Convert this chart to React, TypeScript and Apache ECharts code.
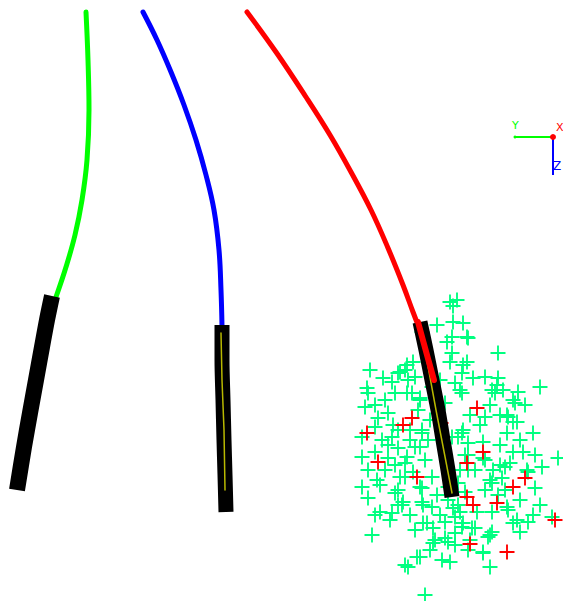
import React, { useEffect, useRef } from "react";
import * as echarts from "echarts";

const greenPath: number[][] = [[86,12],[88,60],[89,110],[87,160],[82,200],[75,235],[66,267],[56,297]];
const bluePath: number[][] = [[143,12],[157,40],[171,72],[184,105],[196,140],[206,175],[214,210],[219,250],[221,290],[222,326]];
const redPath: number[][] = [[247,12],[276,52],[306,97],[330,135],[351,172],[371,210],[388,248],[403,285],[413,312],[418,325]];

const blackGreen: number[][] = [[52,296],[47,320],[42,347],[36,380],[30,413],[24,447],[17,490]];
const blackBlue: number[][] = [[222,325],[222,360],[223,400],[224,440],[225,475],[226,512]];
const blackRed: number[][] = [[420,322],[426,350],[432,380],[438,410],[443,440],[448,470],[452,497]];

const yellowBlue: number[][] = [[221,333],[222,380],[224,430],[225,490]];
const yellowRed: number[][] = [[421,328],[436,410],[452,493]];
const redOverlay: number[][] = [[418,322],[427,355],[434,380]];

const greenCrosses: number[][] = [
  [450,302],[453,306],[437,325],[453,322],[463,323],[422,332],[447,342],[452,337],[467,337],[452,353],[467,362],[498,353],
  [370,370],[405,370],[398,373],[413,362],[407,365],[415,377],[400,372],[367,388],[392,382],[408,380],[440,380],[450,362],
  [455,383],[432,387],[457,300],[468,338],[463,365],[462,373],[473,378],[485,377],[498,378],[540,387],[518,392],[492,390],
  [503,390],[460,390],[497,385],[368,393],[395,393],[412,393],[407,393],[375,405],[365,407],[388,413],[420,398],[420,400],
  [445,403],[422,430],[398,430],[375,427],[382,440],[362,437],[398,448],[415,447],[428,440],[452,437],[410,430],[422,433],
  [420,447],[388,458],[405,463],[425,460],[407,457],[362,457],[368,470],[385,470],[405,477],[432,477],[413,472],[400,477],
  [380,485],[398,490],[422,488],[420,487],[362,487],[448,487],[462,393],[495,393],[515,403],[485,417],[508,417],[513,422],
  [500,415],[513,400],[525,405],[507,415],[517,422],[533,433],[507,433],[462,433],[463,430],[458,437],[483,442],[468,443],
  [465,455],[468,455],[483,458],[513,452],[523,452],[558,458],[485,460],[542,467],[505,467],[500,465],[510,463],[527,470],
  [493,470],[468,470],[528,472],[490,480],[502,478],[492,483],[535,488],[458,483],[485,490],[368,498],[395,493],[422,502],
  [403,502],[423,505],[380,512],[392,513],[402,505],[375,515],[432,507],[448,500],[453,508],[423,523],[427,523],[433,528],
  [445,522],[455,517],[372,535],[435,540],[445,538],[448,542],[433,543],[430,550],[417,557],[420,557],[442,560],[450,562],
  [405,565],[408,567],[425,595],[455,533],[465,492],[498,495],[458,505],[477,512],[492,512],[508,510],[507,507],[533,515],
  [552,517],[513,523],[517,520],[528,522],[520,532],[492,532],[475,528],[462,527],[463,523],[472,528],[488,537],[490,535],
  [483,552],[483,553],[490,567],[468,550],[385,400],[378,418],[393,425],[430,420],[388,445],[375,452],[395,465],
  [383,378],[418,410],[410,440],[392,437],[377,480],[398,505],[410,515],[437,495],[460,470],[475,470],[480,425],[470,415],
  [490,405],[520,440],[535,455],[500,445],[505,490],[520,500],[540,505],[470,540],[455,545],[440,515],[460,512],[415,530],
  [390,520]
];

const redCrosses: number[][] = [
  [367,433],[378,462],[403,425],[412,418],[417,477],[477,408],[483,452],[467,463],[525,478],[513,487],
  [467,497],[473,505],[497,503],[555,520],[470,544],[507,552],[441,423]
];

const crossPath = "path://M7,0L9,0L9,7L16,7L16,9L9,9L9,16L7,16L7,9L0,9L0,7L7,7Z";

function lineSeries(data: number[][], color: string, width: number, smooth: number | boolean = 0.4, cap = "round") {
  return {
    type: "line",
    data,
    smooth,
    showSymbol: false,
    symbol: "none",
    silent: true,
    lineStyle: { color, width, cap, join: "round" },
  };
}

export default function App() {
  const ref = useRef<HTMLDivElement>(null);
  useEffect(() => {
    document.body.style.margin = "0";
    if (!ref.current) return;
    const chart = echarts.init(ref.current, null, { renderer: "svg" });
    chart.setOption({
      animation: false,
      backgroundColor: "#ffffff",
      grid: { left: 0, right: 0, top: 0, bottom: 0 },
      xAxis: { type: "value", min: 0, max: 563, show: false },
      yAxis: { type: "value", min: 0, max: 601, inverse: true, show: false },
      series: [
        lineSeries(greenPath, "#00ff00", 5),
        lineSeries(bluePath, "#0000ff", 5),
        lineSeries(redPath, "#ff0000", 5),
        lineSeries(blackGreen, "#000000", 16, 0.3, "butt"),
        lineSeries(blackBlue, "#000000", 15, 0.3, "butt"),
        lineSeries(blackRed, "#000000", 15, 0.3, "butt"),
        lineSeries(yellowBlue, "#b8b800", 1.5, false),
        lineSeries(yellowRed, "#b8b800", 1.5, false),
        lineSeries(redOverlay, "#ff0000", 6, 0.3),
        {
          type: "scatter",
          data: greenCrosses,
          symbol: crossPath,
          symbolSize: 15,
          silent: true,
          itemStyle: { color: "#00ff80", opacity: 1 },
        },
        {
          type: "scatter",
          data: redCrosses,
          symbol: crossPath,
          symbolSize: 15,
          silent: true,
          itemStyle: { color: "#ff0000", opacity: 1 },
        },
      ],
      graphic: [
        { type: "line", shape: { x1: 515, y1: 137, x2: 553, y2: 137 }, style: { stroke: "#00ff00", lineWidth: 2 } },
        { type: "line", shape: { x1: 553, y1: 137, x2: 553, y2: 175 }, style: { stroke: "#0000ff", lineWidth: 2 } },
        { type: "circle", shape: { cx: 515, cy: 137, r: 1.5 }, style: { fill: "#00ff00" } },
        { type: "circle", shape: { cx: 553, cy: 137, r: 3 }, style: { fill: "#ff0000" } },
        { type: "text", x: 512, y: 120, style: { text: "Y", fill: "#00ff00", font: "11px DejaVu Sans" } },
        { type: "text", x: 556, y: 122, style: { text: "X", fill: "#ff0000", font: "11px DejaVu Sans" } },
        { type: "text", x: 553, y: 160, style: { text: "Z", fill: "#0000ff", font: "12px DejaVu Sans" } },
      ],
    });
    return () => chart.dispose();
  }, []);
  return <div ref={ref} style={{ width: 563, height: 601 }} />;
}
